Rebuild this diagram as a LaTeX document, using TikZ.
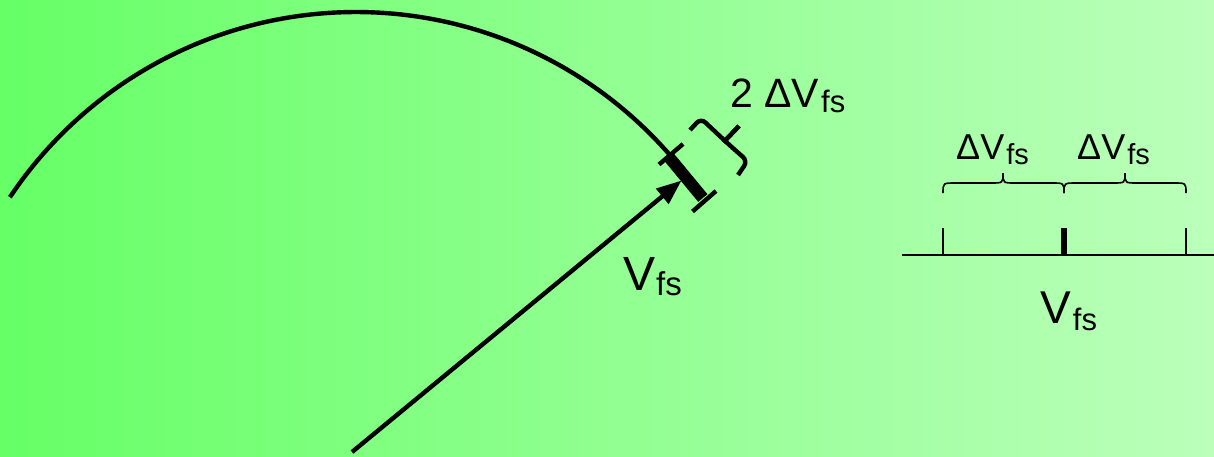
\documentclass[tikz,border=0pt]{standalone}
\usepackage{fontspec}
\setmainfont{Liberation Sans}
\usetikzlibrary{arrows.meta}
\definecolor{bgleft}{RGB}{102,255,102}
\definecolor{bgright}{RGB}{187,255,187}
\newcommand{\lab}[5]{{\fontsize{#1}{#1}\selectfont #3}\hspace{#5}{\fontsize{#2}{#2}\selectfont\raisebox{-#4}{fs}}}
\tikzset{
  thickline/.style={line width=4.4pt, black},
  thinline/.style={line width=1.6pt, black},
  txt/.style={inner sep=0pt, anchor=base west, black},
  vecarrow/.style={thickline, -{Triangle[length=25pt,width=19pt]}},
}
\begin{document}
\begin{tikzpicture}[x=1pt,y=-1pt]
\useasboundingbox (0,0) rectangle (1214,456);
\shade[left color=bgleft, right color=bgright] (0,0) rectangle (1214,456);
% big arc
\draw[thickline, line cap=butt] plot[domain=146.3:40.5, samples=120, smooth] ({356+416*cos(\x)}, {428-416*sin(\x)});
% vector arrow
\coordinate (base) at (352,452);
\coordinate (tip) at (681.5,180.5);
\draw[vecarrow] (base) -- (tip);
% thick bar on the arc
\coordinate (barA) at (668.4,156.4);
\coordinate (barB) at (702.8,198.0);
\draw[line width=12pt] (barA) -- (barB);
\coordinate (tickA1) at (659,164.5);
\coordinate (tickA2) at (683,144);
\coordinate (tickB1) at (692.5,211.5);
\coordinate (tickB2) at (716,191);
\draw[thickline] (tickA1) -- (tickA2);
\draw[thickline] (tickB1) -- (tickB2);
% rotated brace
\coordinate (bA0) at (690,130);
\coordinate (bA1) at (700.9,118.3);
\coordinate (bM1) at (720.5,136.7);
\coordinate (bA2) at (724.9,140.8);
\coordinate (bTip) at (739,126);
\coordinate (bM2) at (729.3,144.9);
\coordinate (bA3) at (747.5,161.0);
\coordinate (bA4) at (738,175);
\draw[thickline, rounded corners=6pt] (bA0) -- (bA1) -- (bM1) .. controls (bA2) .. (bTip);
\draw[thickline, rounded corners=6pt] (bTip) .. controls (bA2) .. (bM2) -- (bA3) -- (bA4);
% labels
\node[txt] (lab2dv) at (730,107) {\lab{41}{31}{2 ΔV}{5pt}{2pt}};
\node[txt] (labv) at (623,290) {\lab{48}{33}{V}{5pt}{1pt}};
% right scale
\coordinate (axL) at (902,255);
\coordinate (axR) at (1214,255);
\draw[line width=2pt] (axL) -- (axR);
\coordinate (tkL) at (943,255);
\coordinate (tkLt) at (943,228);
\coordinate (tkR) at (1186,255);
\coordinate (tkRt) at (1186,228);
\coordinate (tkC) at (1064,255);
\coordinate (tkCt) at (1064,228);
\draw[thinline] (tkL) -- (tkLt);
\draw[thinline] (tkR) -- (tkRt);
\draw[line width=6pt] (tkC) -- (tkCt);
% braces
\draw[thinline] (943,193) .. controls (943,183) .. (955,183) -- (991,183) .. controls (1003,183) .. (1003,173)
  .. controls (1003,183) .. (1015,183) -- (1052,183) .. controls (1064,183) .. (1064,193);
\draw[thinline] (1064,193) .. controls (1064,183) .. (1076,183) -- (1113,183) .. controls (1125,183) .. (1125,173)
  .. controls (1125,183) .. (1137,183) -- (1174,183) .. controls (1186,183) .. (1186,193);
\node[txt] (labd1) at (956,159) {\lab{36}{29}{ΔV}{5pt}{2pt}};
\node[txt] (labd2) at (1077,159) {\lab{36}{29}{ΔV}{5pt}{2pt}};
\node[txt] (labvb) at (1040,323) {\lab{46}{31}{V}{7pt}{2pt}};
\end{tikzpicture}
\end{document}
